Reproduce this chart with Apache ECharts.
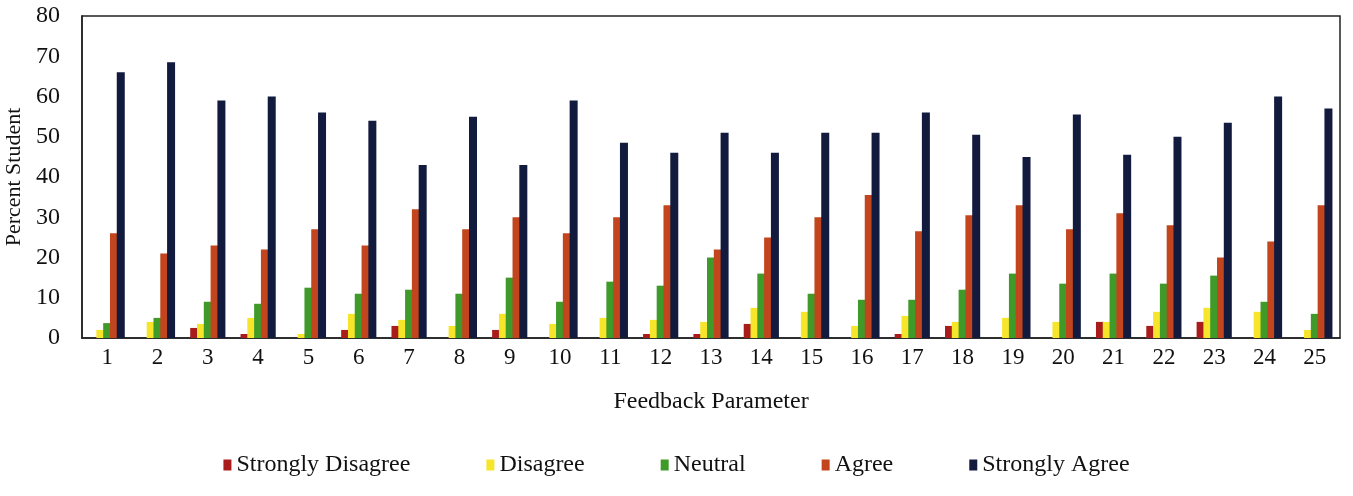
<!DOCTYPE html>
<html>
<head>
<meta charset="utf-8">
<script src="https://cdn.jsdelivr.net/npm/echarts@6/dist/echarts.min.js"></script>
<style>
html,body{margin:0;padding:0;background:#fff;}
#chart{width:1353px;height:496px;}
</style>
</head>
<body>
<div id="chart"></div>
<script>
var categories = ['1','2','3','4','5','6','7','8','9','10','11','12','13','14','15','16','17','18','19','20','21','22','23','24','25'];
var stronglyDisagree = [0,0,2.5,1,0,2,3,0,2,0,0,1,1,3.5,0,0,1,3,0,0,4,3,4,0,0];
var disagree = [2,4,3.5,5,1,6,4.5,3,6,3.5,5,4.5,4,7.5,6.5,3,5.5,4,5,4,4,6.5,7.5,6.5,2];
var neutral = [3.7,5,9,8.5,12.5,11,12,11,15,9,14,13,20,16,11,9.5,9.5,12,16,13.5,16,13.5,15.5,9,6];
var agree = [26,21,23,22,27,23,32,27,30,26,30,33,22,25,30,35.5,26.5,30.5,33,27,31,28,20,24,33];
var stronglyAgree = [66,68.5,59,60,56,54,43,55,43,59,48.5,46,51,46,51,51,56,50.5,45,55.5,45.5,50,53.5,60,57];
var yTicks = [0,10,20,30,40,50,60,70,80];

var serif = '"Liberation Serif", "DejaVu Serif", serif';
var colors = ['#a81c1c', '#f6e52a', '#3f9a2a', '#c2451d', '#121a3e'];
var names = ['Strongly Disagree','Disagree','Neutral','Agree','Strongly Agree'];
var dataSets = [stronglyDisagree, disagree, neutral, agree, stronglyAgree];

var chart = echarts.init(document.getElementById('chart'));
chart.setOption({
  animation: false,
  color: colors,
  grid: {left: 82, right: 13, top: 16, bottom: 158, outerBoundsMode: 'none', containLabel: false, show: true, borderColor: '#222', borderWidth: 1.5, backgroundColor: 'transparent'},
  legend: {
    data: names,
    top: 448,
    left: 'center',
    itemWidth: 8,
    itemHeight: 11,
    itemGap: 76,
    icon: 'rect',
    textStyle: {fontFamily: serif, fontSize: 24, color: '#111'}
  },
  xAxis: {
    type: 'category',
    data: categories,
    name: 'Feedback Parameter',
    nameLocation: 'middle',
    nameGap: 52,
    nameTextStyle: {fontFamily: serif, fontSize: 24, color: '#111'},
    axisLine: {show: true, lineStyle: {color: '#222', width: 1.5}},
    axisTick: {show: false},
    axisLabel: {fontFamily: serif, fontSize: 23, color: '#111', margin: 8}
  },
  yAxis: {
    type: 'value',
    min: yTicks[0],
    max: yTicks[yTicks.length - 1],
    interval: 10,
    name: 'Percent Student',
    nameLocation: 'middle',
    nameGap: 55,
    nameTextStyle: {fontFamily: serif, fontSize: 22, color: '#111'},
    axisLine: {show: true, lineStyle: {color: '#222', width: 1.5}},
    axisTick: {show: false},
    splitLine: {show: false},
    axisLabel: {fontFamily: serif, fontSize: 24, color: '#111', margin: 22}
  },
  series: dataSets.map(function (d, i) {
    return {
      name: names[i],
      type: 'bar',
      data: d,
      barWidth: 8,
      barGap: '-15%',
      itemStyle: {color: colors[i]}
    };
  })
});
</script>
</body>
</html>
